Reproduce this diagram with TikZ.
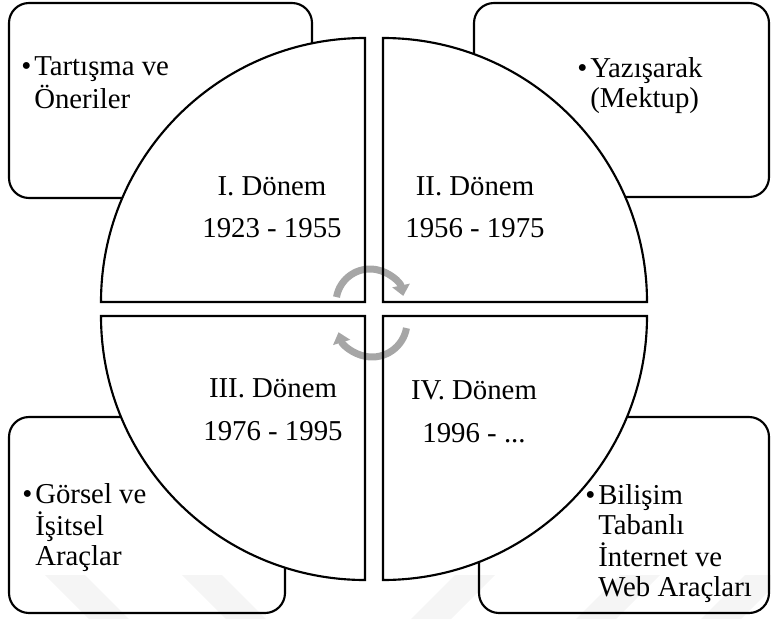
\documentclass[tikz,border=0pt]{standalone}
\usepackage{fontspec}
\setmainfont{Liberation Serif}
\usetikzlibrary{arrows.meta}
\definecolor{cyclegray}{RGB}{166,166,166}
\newcommand{\periodfont}{\fontsize{21.6}{32.25}\selectfont}
\newcommand{\notefont}{\fontsize{21.6}{22.5}\selectfont}
\newcommand{\bul}{\makebox[9.75pt][l]{•}}

\begin{document}
\begin{tikzpicture}[x=0.75pt,y=0.75pt,
  outline/.style={line width=1.6pt, draw=black},
  cornerbox/.style={outline, fill=white, rounded corners=15pt},
  period/.style={anchor=base, inner sep=0pt, font=\periodfont},
  note/.style={anchor=base west, inner sep=0pt, font=\notefont},
  cyclearrow/.style={draw=cyclegray, line width=5.25pt,
    -{Triangle[length=8pt,width=13pt]}},
  wmark/.style={fill=black, fill opacity=0.04, draw=none}]

\useasboundingbox (0,0) rectangle (771,619);

% corner boxes
\draw[cornerbox] (9,421) rectangle (312,616);
\draw[cornerbox] (474,422) rectangle (769,616);
\draw[cornerbox] (9,6) rectangle (285,202);
\draw[cornerbox] (479,6) rectangle (769,202);

% quarter discs: white fill first
\fill[white] (365,317) -- (101,317) arc[start angle=180, end angle=90, radius=264] -- cycle;
\fill[white] (383,317) -- (383,581) arc[start angle=90, end angle=0, radius=264] -- cycle;
\fill[white] (365,303) -- (101,303) arc[start angle=180, end angle=270, radius=264] -- cycle;
\fill[white] (383,303) -- (383,39) arc[start angle=270, end angle=360, radius=264] -- cycle;

% circular arrows in the middle
\coordinate (topc) at (370,316);
\coordinate (botc) at (372,297);
\draw[cyclearrow] ([shift={(170:34)}]topc) arc[start angle=170, end angle=12, radius=34];
\draw[cyclearrow] ([shift={(-10:35)}]botc) arc[start angle=-10, end angle=-163, radius=35];

% quarter disc outlines
\draw[outline] (365,317) -- (101,317) arc[start angle=180, end angle=90, radius=264] -- cycle;
\draw[outline] (383,317) -- (383,581) arc[start angle=90, end angle=0, radius=264] -- cycle;
\draw[outline] (365,303) -- (101,303) arc[start angle=180, end angle=270, radius=264] -- cycle;
\draw[outline] (383,303) -- (383,39) arc[start angle=270, end angle=360, radius=264] -- cycle;

% period labels
\node[period] (p1) at (272,424) {\begin{tabular}[t]{@{}c@{}}I. Dönem\\1923 - 1955\end{tabular}};
\node[period] (p2) at (475,424) {\begin{tabular}[t]{@{}c@{}}II. Dönem\\1956 - 1975\end{tabular}};
\node[period] (p3) at (273,222) {\begin{tabular}[t]{@{}c@{}}III. Dönem\\1976 - 1995\end{tabular}};
\node[period] (p4) at (474,220) {\begin{tabular}[t]{@{}c@{}}IV. Dönem\\1996 - ...\end{tabular}};

% bullet notes
\node[note] (n1) at (21,543) {\begin{tabular}[t]{@{}l@{}l@{}}\bul&Tartışma ve\\&Öneriler\end{tabular}};
\node[note] (n2) at (577,541) {\begin{tabular}[t]{@{}l@{}l@{}}\bul&Yazışarak\\&(Mektup)\end{tabular}};
\node[note] (n3) at (22,116) {\begin{tabular}[t]{@{}l@{}l@{}}\bul&Görsel ve\\&İşitsel\\&Araçlar\end{tabular}};
\node[note] (n4) at (585,115) {\begin{tabular}[t]{@{}l@{}l@{}}\bul&Bilişim\\&Tabanlı\\&İnternet ve\\&Web Araçları\end{tabular}};

% faint slanted bands along the bottom edge
\fill[wmark] (45,44) -- (85,44) -- (129,0) -- (89,0) -- cycle;
\fill[wmark] (182,44) -- (222,44) -- (266,0) -- (226,0) -- cycle;
\fill[wmark] (455,44) -- (495,44) -- (451,0) -- (411,0) -- cycle;
\fill[wmark] (620,44) -- (660,44) -- (616,0) -- (576,0) -- cycle;
\fill[wmark] (745,44) -- (785,44) -- (741,0) -- (701,0) -- cycle;
\end{tikzpicture}
\end{document}
